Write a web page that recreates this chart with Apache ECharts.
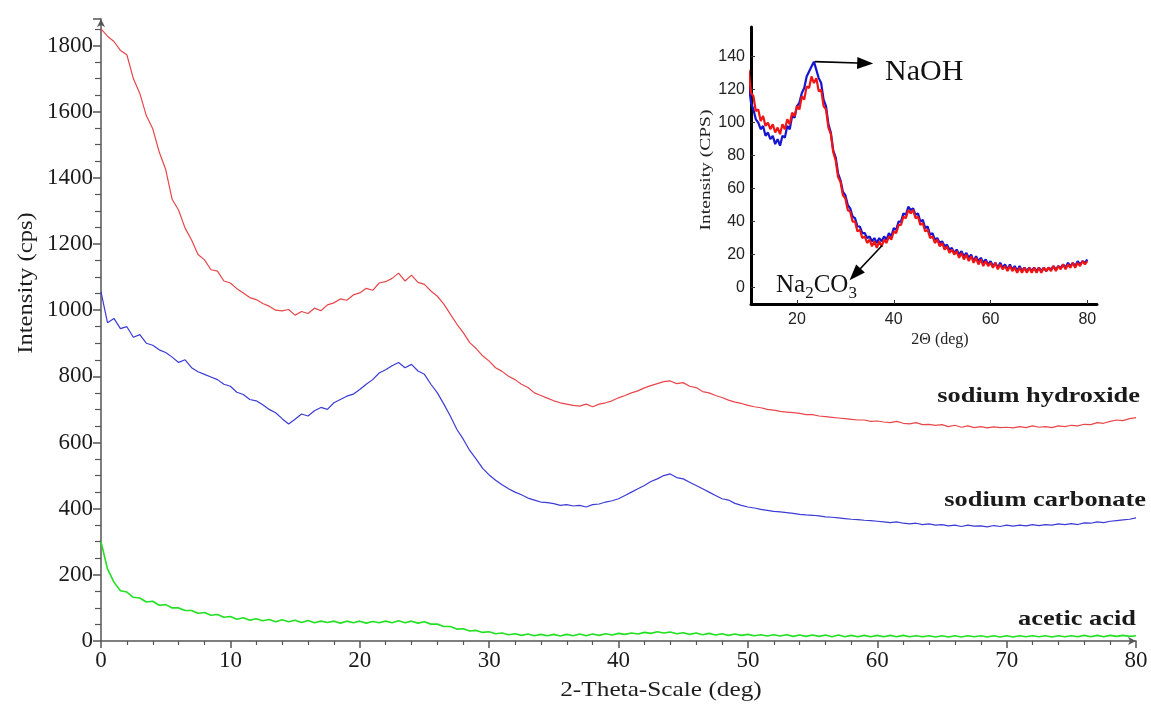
<!DOCTYPE html>
<html>
<head>
<meta charset="utf-8">
<script src="https://cdn.jsdelivr.net/npm/echarts@6/dist/echarts.min.js"></script>
<style>
html,body{margin:0;padding:0;background:#fff;}
#chart{width:1151px;height:708px;}
</style>
</head>
<body>
<div id="chart"></div>
<script>
// ---------- DATA ----------
// Main chart: 2-theta from 0 to 80 deg, sampled every 0.5 deg
const mainStart = 0;
const mainStep = 0.5;
const sodiumHydroxide = [
1850,1828,1812,1785,1772,1700,1655,1588,1548,1478,
1425,1335,1302,1248,1212,1168,1152,1122,1118,1088,
1082,1065,1052,1038,1032,1020,1012,1000,998,1002,
985,996,990,1006,998,1016,1022,1034,1030,1046,
1052,1066,1060,1082,1086,1096,1112,1088,1106,1084,
1078,1058,1042,1018,988,958,932,902,884,862,
846,826,815,800,790,776,766,750,742,734,
726,720,716,712,710,716,708,716,720,726,
735,742,750,756,765,772,778,784,786,778,
781,770,766,754,750,742,736,728,722,718,
712,708,705,700,698,694,692,690,688,684,
684,680,678,676,674,672,670,668,668,664,
665,662,660,664,658,656,660,654,655,652,
654,648,652,646,650,645,648,644,647,645,
646,644,648,645,650,646,648,645,650,648,
652,650,655,654,660,658,664,668,666,672,
675];
const sodiumCarbonate = [
1055,962,975,944,950,918,926,900,894,880,
872,858,842,850,826,814,806,798,790,776,
770,752,745,730,726,714,700,690,672,656,
670,686,680,696,706,700,720,730,740,746,
760,776,790,810,820,832,842,826,836,816,
806,776,750,716,680,640,610,576,550,522,
502,486,472,460,450,442,432,426,420,418,
415,410,412,408,410,405,412,414,420,424,
430,440,450,460,470,482,490,500,505,494,
490,480,470,460,450,440,430,426,416,410,
405,402,398,395,392,390,388,386,383,381,
380,378,375,374,372,370,368,367,365,364,
362,360,358,360,356,354,356,352,354,350,
352,348,350,346,350,347,348,345,349,346,
350,347,350,348,352,349,352,350,354,352,
355,352,357,356,360,358,362,364,366,368,
372];
const aceticAcid = [
300,218,178,152,148,132,130,118,120,108,
110,100,100,92,92,84,86,78,80,72,
74,66,70,63,67,61,65,58,64,58,
63,56,62,55,60,56,60,54,60,55,
60,54,59,55,60,55,61,55,60,54,
58,51,51,44,44,36,37,30,32,26,
28,22,24,19,22,17,21,16,20,16,
20,15,20,16,21,16,21,17,22,18,
23,20,24,21,26,23,28,24,27,22,
25,20,24,19,23,18,22,17,21,17,
20,16,19,15,19,15,19,14,18,14,
18,14,18,13,18,13,17,13,17,13,
17,13,17,13,17,13,16,13,16,12,
16,12,16,12,16,13,16,12,16,12,
16,12,16,13,16,13,16,12,16,13,
16,13,17,13,17,13,17,14,17,14,
16];

// Inset: 2-theta from 10 to 80 deg, every 0.5 deg
const insetStart = 10;
const insetStep = 0.5;
const insetNaOH = [
132,118,116,107,108,101,104,98,100,96,
99,94,97,93,99,96,102,99,106,104,
110,108,116,114,122,121,128,124,127,119,
120,110,108,97,93,82,77,67,64,56,
54,47,46,40,40,34,35,30,31,27,
29,25,28,24,28,25,29,27,31,29,
34,33,38,38,43,42,47,45,47,42,
43,38,39,34,35,30,31,27,29,25,
27,23,25,21,23,20,22,18,21,17,
20,16,19,15,18,14,17,13,16,13,
15,12,15,11,14,11,13,10,13,10,
12,9,12,9,12,9,12,9,12,9,
12,9,12,10,12,10,13,10,13,11,
14,11,14,12,15,12,15,13,16,14,
16];
const insetNa2CO3 = [
124,112,108,102,100,96,98,92,94,90,
92,87,90,86,92,91,98,96,104,103,
110,112,118,121,128,131,134,137,132,127,
124,114,110,99,94,83,79,69,65,58,
56,50,48,43,42,37,37,33,33,30,
31,28,30,27,30,28,31,29,33,31,
36,35,40,40,45,44,49,47,48,44,
45,40,41,36,37,32,33,29,30,27,
28,25,26,23,24,21,23,20,22,19,
21,18,20,16,19,16,18,15,17,14,
16,13,15,12,15,12,14,11,14,11,
13,10,13,10,12,10,12,10,12,10,
12,10,12,10,12,11,13,11,13,12,
14,12,15,13,15,13,16,14,16,15,
17];

const insetXTicks = [20,40,60,80];
const insetYTicks = [0,20,40,60,80,100,120,140];
const seriesNames = ['sodium hydroxide','sodium carbonate','acetic acid'];
// arrows in inset (data coordinates)
const naohArrow = [[23.7,137],[34.1,136]];
const na2co3Arrow = [[37.6,25.5],[32,8]];

function toPairs(start, step, arr){ return arr.map((v,i)=>[start+i*step, v]); }

// ---------- CHART ----------
const chart = echarts.init(document.getElementById('chart'));
const serif = '"Liberation Serif", "Times New Roman", serif';
const sans = '"Liberation Sans", Arial, sans-serif';
const labelColor = '#1c1c1c';
const plain = v => String(v);

const option = {
  animation: false,
  backgroundColor: '#fff',
  grid: [
    {left: 101, right: 15, top: 19, bottom: 67},
    {left: 751, right: 54, top: 27, bottom: 404}
  ],
  xAxis: [
    {
      type: 'value', gridIndex: 0, min: 0, max: 80, interval: 10,
      axisLine: {onZero: false, lineStyle: {color: '#555', width: 1.5}, symbol: ['none','arrow'], symbolSize: [6,8]},
      axisTick: {length: 7, lineStyle: {color: '#555', width: 1.5}},
      minorTick: {show: true, splitNumber: 5, length: 4, lineStyle: {color: '#555', width: 1.2}},
      splitLine: {show: false},
      axisLabel: {fontFamily: serif, fontSize: 23, color: labelColor, margin: 8, formatter: plain}
    },
    {
      type: 'value', gridIndex: 1, min: 10.5, max: 82,
      axisLine: {onZero: false, lineStyle: {color: '#000', width: 3}},
      axisTick: {show: true, inside: true, length: 4, customValues: insetXTicks, lineStyle: {color: '#333'}},
      splitLine: {show: false},
      axisLabel: {fontFamily: sans, fontSize: 16, color: '#222', margin: 8, customValues: insetXTicks}
    }
  ],
  yAxis: [
    {
      type: 'value', gridIndex: 0, min: 0, max: 1880, interval: 200,
      axisLine: {show: true, onZero: false, lineStyle: {color: '#555', width: 1.5}, symbol: ['none','arrow'], symbolSize: [6,8]},
      axisTick: {show: true, length: 8, lineStyle: {color: '#555', width: 1.5}},
      minorTick: {show: true, splitNumber: 4, length: 6, lineStyle: {color: '#555', width: 1.2}},
      splitLine: {show: false},
      axisLabel: {fontFamily: serif, fontSize: 23, color: labelColor, margin: 8, showMaxLabel: false, formatter: plain}
    },
    {
      type: 'value', gridIndex: 1, min: -10, max: 158,
      axisLine: {show: true, onZero: false, lineStyle: {color: '#000', width: 3}},
      axisTick: {show: true, inside: true, length: 4, customValues: insetYTicks, lineStyle: {color: '#333'}},
      splitLine: {show: false},
      axisLabel: {fontFamily: sans, fontSize: 16, color: '#222', margin: 6, customValues: insetYTicks}
    }
  ],
  series: [
    {name: seriesNames[0], type: 'line', xAxisIndex: 0, yAxisIndex: 0, showSymbol: false,
      data: toPairs(mainStart, mainStep, sodiumHydroxide), lineStyle: {color: '#e8464a', width: 1.2}},
    {name: seriesNames[1], type: 'line', xAxisIndex: 0, yAxisIndex: 0, showSymbol: false,
      data: toPairs(mainStart, mainStep, sodiumCarbonate), lineStyle: {color: '#3b3bd6', width: 1.2}},
    {name: seriesNames[2], type: 'line', xAxisIndex: 0, yAxisIndex: 0, showSymbol: false,
      data: toPairs(mainStart, mainStep, aceticAcid), lineStyle: {color: '#22e022', width: 1.6}},
    {name: 'Na2CO3 inset', type: 'line', xAxisIndex: 1, yAxisIndex: 1, showSymbol: false,
      data: toPairs(insetStart, insetStep, insetNa2CO3), lineStyle: {color: '#1414d2', width: 2.2}},
    {name: 'NaOH inset', type: 'line', xAxisIndex: 1, yAxisIndex: 1, showSymbol: false,
      data: toPairs(insetStart, insetStep, insetNaOH), lineStyle: {color: '#f01414', width: 2.2},
      markLine: {
        silent: true, symbol: ['none','triangle'], symbolSize: [12,16],
        label: {show: false},
        lineStyle: {color: '#000', width: 1.6, type: 'solid'},
        data: [
          [{coord: naohArrow[0]}, {coord: naohArrow[1]}],
          [{coord: na2co3Arrow[0]}, {coord: na2co3Arrow[1]}]
        ]
      }}
  ],
  graphic: [
    {type: 'text', x: 26, y: 283, rotation: Math.PI/2, scaleX: 1.12,
      style: {text: 'Intensity (cps)', font: '22px ' + serif, fill: labelColor, align: 'center', verticalAlign: 'middle'}},
    {type: 'text', x: 661, y: 690, scaleX: 1.15,
      style: {text: '2-Theta-Scale (deg)', font: '22px ' + serif, fill: labelColor, align: 'center', verticalAlign: 'middle'}},
    {type: 'text', x: 1140, y: 396, scaleX: 1.2,
      style: {text: seriesNames[0], font: 'bold 22px ' + serif, fill: '#1a1a1a', align: 'right', verticalAlign: 'middle'}},
    {type: 'text', x: 1146, y: 500, scaleX: 1.2,
      style: {text: seriesNames[1], font: 'bold 22px ' + serif, fill: '#1a1a1a', align: 'right', verticalAlign: 'middle'}},
    {type: 'text', x: 1136, y: 619, scaleX: 1.2,
      style: {text: seriesNames[2], font: 'bold 22px ' + serif, fill: '#1a1a1a', align: 'right', verticalAlign: 'middle'}},
    {type: 'text', x: 706, y: 170, rotation: Math.PI/2, scaleX: 1.3,
      style: {text: 'Intensity (CPS)', font: '15px ' + serif, fill: '#222', align: 'center', verticalAlign: 'middle'}},
    {type: 'text', x: 940, y: 340,
      style: {text: '2\u0398 (deg)', font: '16px ' + serif, fill: '#222', align: 'center', verticalAlign: 'middle'}},
    {type: 'text', x: 885, y: 72,
      style: {text: 'NaOH', font: '30px ' + serif, fill: '#111', align: 'left', verticalAlign: 'middle'}},
    {type: 'text', x: 776, y: 285,
      style: {text: '{n|Na}{s|2}{n|CO}{s|3}', fill: '#111', align: 'left', verticalAlign: 'middle',
        rich: {
          n: {font: '25px ' + serif, fill: '#111', lineHeight: 25, verticalAlign: 'top'},
          s: {font: '17px ' + serif, fill: '#111', lineHeight: 17, verticalAlign: 'top', padding: [13,0,0,0]}
        }}}
  ]
};
chart.setOption(option);
</script>
</body>
</html>
